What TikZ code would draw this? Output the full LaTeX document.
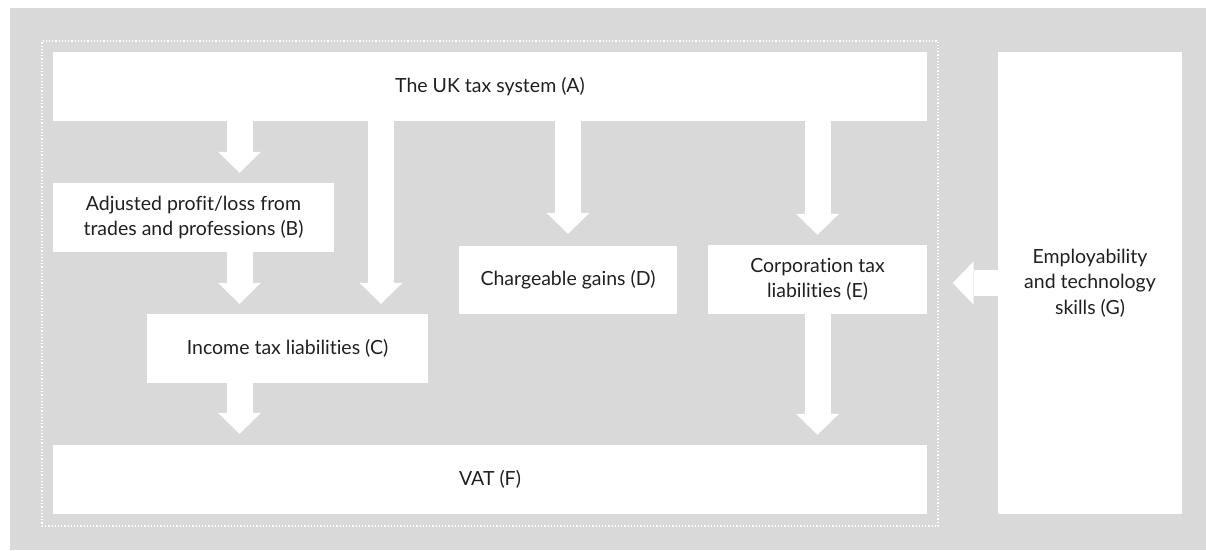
\documentclass[tikz,border=0pt]{standalone}
\usepackage{fontspec}
\setmainfont[Ligatures=NoCommon]{Lato}
\usetikzlibrary{arrows.meta}
\definecolor{bg}{HTML}{D9D9D9}
\definecolor{txt}{HTML}{231F20}
\begin{document}
\begin{tikzpicture}[x=1pt,y=-1pt,
  box/.style={fill=white, inner sep=0pt, align=center, text=txt,
    font=\fontsize{19.5}{25.5}\selectfont},
  bigarrow/.style={white, line width=26pt,
    -{Triangle[width=43pt,length=21pt,line width=0pt]}},
  frame/.style={draw=white, dotted, line width=1.2pt, inner sep=0pt}]
\useasboundingbox (0,0) rectangle (1206,550);
\fill[bg] (10,8) rectangle (1206,550);
\node[frame, minimum width=896pt, minimum height=485pt] (fr) at (490,283.5) {};
\node[box, minimum width=874pt, minimum height=69pt] (A) at (490,86.5) {The UK tax system (A)};
\node[box, minimum width=281pt, minimum height=69pt] (B) at (193.5,217.5) {Adjusted profit/loss from\\trades and professions (B)};
\node[box, minimum width=281pt, minimum height=69pt] (C) at (287.5,348.5) {Income tax liabilities (C)};
\node[box, minimum width=218pt, minimum height=68pt] (D) at (568,280) {Chargeable gains (D)};
\node[box, minimum width=219pt, minimum height=69pt] (E) at (817.5,279.5) {Corporation tax\\liabilities (E)};
\node[box, minimum width=874pt, minimum height=69pt] (F) at (490,479.5) {VAT (F)};
\node[box, minimum width=184pt, minimum height=462pt] (G) at (1090,283) {Employability\\and technology\\skills (G)};
\coordinate (x1) at (239.5,0);
\coordinate (x2) at (381,0);
\draw[bigarrow, shorten >=10pt] (x1 |- A.south) -- (x1 |- B.north);
\draw[bigarrow, shorten >=10pt] (x1 |- B.south) -- (x1 |- C.north);
\draw[bigarrow, shorten >=10pt] (x2 |- A.south) -- (x2 |- C.north);
\draw[bigarrow, shorten >=12pt] (D.north |- A.south) -- (D.north);
\draw[bigarrow, shorten >=10pt] (E.north |- A.south) -- (E.north);
\draw[bigarrow, shorten >=11pt] (x1 |- C.south) -- (x1 |- F.north);
\draw[bigarrow, shorten >=10pt] (E.south) -- (E.south |- F.north);
\draw[bigarrow, shorten >=14pt] (G.west) -- (G.west -| fr.east);
\end{tikzpicture}
\end{document}
